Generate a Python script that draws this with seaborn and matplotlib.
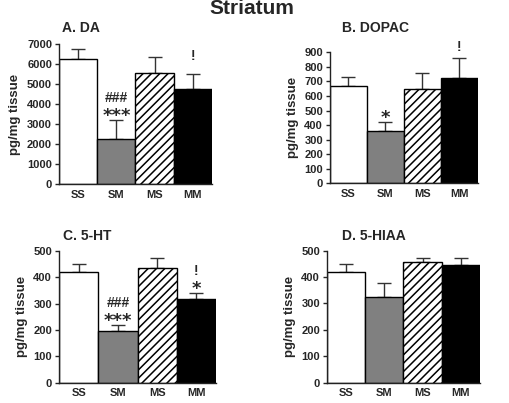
import matplotlib
matplotlib.use("Agg", force=True)
import matplotlib.pyplot as plt
import pandas as pd
import seaborn as sns

groups = ["SS", "SM", "MS", "MM"]
colors = ["#ffffff", "#808080", "#ffffff", "#000000"]

da_mean = [6250, 2230, 5570, 4740]
da_sem = [500, 950, 800, 750]
dopac_mean = [670, 361, 648, 725]
dopac_sem = [58, 58, 112, 133]
ht_mean = [422, 195, 435, 318]
ht_sem = [30, 23, 38, 22]
hiaa_mean = [421, 325, 457, 445]
hiaa_sem = [28, 53, 14, 28]

panel_titles = ["A. DA", "B. DOPAC", "C. 5-HT", "D. 5-HIAA"]
panel_ymax = [7000, 900, 500, 500]
panel_ystep = [1000, 100, 100, 100]
# significance marks per panel: (bar index, text, offset above error bar in points)
panel_marks = [
    [(1, "***", 3), (1, "###", 14), (3, "!", 11)],
    [(1, "*", 3), (3, "!", 6)],
    [(1, "***", 3), (1, "###", 14), (3, "*", 3), (3, "!", 14)],
    [],
]

sns.set_style("ticks")
plt.rcParams["font.family"] = ["Liberation Sans", "DejaVu Sans"]
plt.rcParams["font.weight"] = "bold"
plt.rcParams["hatch.linewidth"] = 1.1

fig = plt.figure(figsize=(5.09, 4.03), dpi=100)
fig.text(0.495, 0.966, "Striatum", ha="center", va="baseline", fontsize=15, fontweight="bold")

rects = [
    [0.1159, 0.5434, 0.3006, 0.3474],
    [0.6483, 0.5452, 0.2908, 0.3250],
    [0.1159, 0.0504, 0.3085, 0.3268],
    [0.6424, 0.0504, 0.3006, 0.3276],
]
title_x = [0.122, 0.672, 0.124, 0.672]
title_y = [0.921, 0.921, 0.404, 0.404]

means = [da_mean, dopac_mean, ht_mean, hiaa_mean]
sems = [da_sem, dopac_sem, ht_sem, hiaa_sem]

for i in range(4):
    ax = fig.add_axes(rects[i])
    df = pd.DataFrame({"group": groups, "value": means[i], "sem": sems[i]})
    sns.barplot(data=df, x="group", y="value", hue="group", palette=colors,
                edgecolor="black", linewidth=1, width=1, legend=False, ax=ax)
    ax.patches[2].set_hatch("////")
    ax.errorbar(range(4), df["value"], yerr=[[0] * 4, df["sem"]], fmt="none",
                ecolor="#333333", elinewidth=1, capsize=5, capthick=1, zorder=1)
    for p in ax.patches:
        p.set_zorder(2)
    ax.set_xlim(-0.5, 3.5)
    ax.set_ylim(0, panel_ymax[i])
    ax.set_yticks(range(0, panel_ymax[i] + 1, panel_ystep[i]))
    ax.set_xlabel("")
    ax.set_ylabel("pg/mg tissue", fontsize=9.5, fontweight="bold")
    ax.tick_params(axis="x", length=0, pad=4, labelsize=8)
    ax.tick_params(axis="y", length=3, width=1, pad=2, labelsize=8)
    for lab in ax.get_xticklabels() + ax.get_yticklabels():
        lab.set_fontweight("bold")
    sns.despine(ax=ax)
    for s in ["left", "bottom"]:
        ax.spines[s].set_linewidth(1)
        ax.spines[s].set_color("#222222")
    for j, mark, off in panel_marks[i]:
        top = means[i][j] + sems[i][j]
        if "*" in mark:
            ax.annotate(mark, (j, top), xytext=(0, off), textcoords="offset points",
                        ha="center", va="center", fontsize=13, fontweight="bold",
                        family=["DejaVu Sans"])
        else:
            ax.annotate(mark, (j, top), xytext=(0, off + 2), textcoords="offset points",
                        ha="center", va="center", fontsize=10, fontweight="bold")
    fig.text(title_x[i], title_y[i], panel_titles[i], ha="left", va="baseline",
             fontsize=10, fontweight="bold")

fig.savefig("out.png", dpi=100)
